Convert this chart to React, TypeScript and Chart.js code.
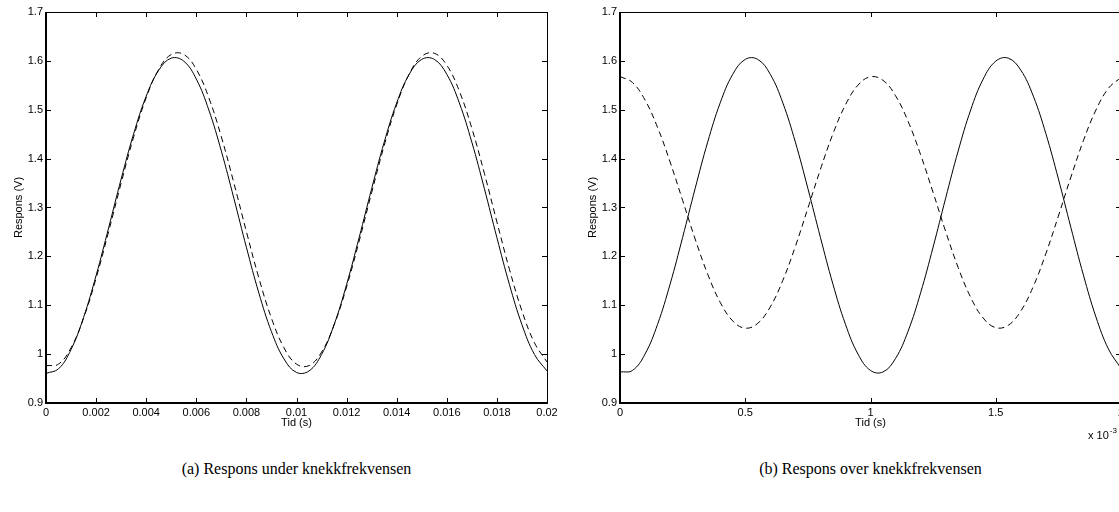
import React, { useEffect, useRef } from "react";
import { Chart, registerables } from "chart.js";

Chart.register(...registerables);

// ---- data ----
const timeA = [0, 0.0005, 0.001, 0.0015, 0.002, 0.0025, 0.003, 0.0035, 0.004, 0.0045, 0.005, 0.0055, 0.006, 0.0065, 0.007, 0.0075, 0.008, 0.0085, 0.009, 0.0095, 0.01, 0.0105, 0.011, 0.0115, 0.012, 0.0125, 0.013, 0.0135, 0.014, 0.0145, 0.015, 0.0155, 0.016, 0.0165, 0.017, 0.0175, 0.018, 0.0185, 0.019, 0.0195, 0.02];
const solidA = [0.9606, 0.97, 1.0094, 1.0752, 1.1609, 1.2584, 1.3583, 1.451, 1.5277, 1.5809, 1.6056, 1.5994, 1.5628, 1.4995, 1.4154, 1.3187, 1.2185, 1.1246, 1.046, 0.9902, 0.9625, 0.9656, 0.9992, 1.0602, 1.1425, 1.2384, 1.3386, 1.4335, 1.514, 1.5725, 1.6031, 1.6031, 1.5725, 1.514, 1.4335, 1.3386, 1.2384, 1.1425, 1.0602, 0.9992, 0.9656];
const dashedA = [0.9765, 0.9796, 1.013, 1.0735, 1.1554, 1.2507, 1.3502, 1.4446, 1.5246, 1.5827, 1.6131, 1.6131, 1.5827, 1.5246, 1.4446, 1.3502, 1.2507, 1.1554, 1.0735, 1.013, 0.9796, 0.9765, 1.004, 1.0595, 1.1376, 1.231, 1.3304, 1.4266, 1.5102, 1.5731, 1.6094, 1.6156, 1.5911, 1.5382, 1.462, 1.3698, 1.2705, 1.1736, 1.0885, 1.0231, 0.9839];

const timeB = [0, 0.05, 0.1, 0.15, 0.2, 0.25, 0.3, 0.35, 0.4, 0.45, 0.5, 0.55, 0.6, 0.65, 0.7, 0.75, 0.8, 0.85, 0.9, 0.95, 1, 1.05, 1.1, 1.15, 1.2, 1.25, 1.3, 1.35, 1.4, 1.45, 1.5, 1.55, 1.6, 1.65, 1.7, 1.75, 1.8, 1.85, 1.9, 1.95, 2];
const solidB = [0.9635, 0.9666, 1.0002, 1.061, 1.1432, 1.2389, 1.339, 1.4338, 1.5141, 1.5725, 1.6031, 1.6031, 1.5725, 1.5141, 1.4338, 1.339, 1.2389, 1.1432, 1.061, 1.0002, 0.9666, 0.9635, 0.9912, 1.0469, 1.1254, 1.2191, 1.3191, 1.4157, 1.4997, 1.5629, 1.5994, 1.6056, 1.581, 1.5278, 1.4512, 1.3587, 1.2589, 1.1616, 1.076, 1.0103, 0.971];
const dashedB = [1.568, 1.5556, 1.5198, 1.4638, 1.3931, 1.3145, 1.2355, 1.1637, 1.106, 1.0679, 1.0531, 1.063, 1.0967, 1.1509, 1.2203, 1.2985, 1.3778, 1.4507, 1.51, 1.5503, 1.5675, 1.5601, 1.5287, 1.4763, 1.4081, 1.3305, 1.251, 1.1772, 1.1161, 1.0738, 1.0541, 1.0591, 1.0882, 1.1386, 1.2055, 1.2825, 1.3622, 1.437, 1.4995, 1.544, 1.566];

const yRange = [0.9, 1.7, 0.1];
const xRangeA = [0, 0.02, 0.002];
const xRangeB = [0, 2, 0.5];
const xTitle = "Tid (s)";
const yTitle = "Respons (V)";
const captionA = "(a) Respons under knekkfrekvensen";
const captionB = "(b) Respons over knekkfrekvensen";

const SANS = '"Liberation Sans", Arial, Helvetica, sans-serif';

const framePlugin = {
  id: "frame",
  afterDraw(chart: any, _args: any, opts: any) {
    const { ctx, chartArea, scales } = chart;
    const { left, top, right, bottom } = chartArea;
    const tl = 5;
    ctx.save();
    ctx.strokeStyle = "#000";
    ctx.lineWidth = 1;
    ctx.beginPath();
    scales.x.ticks.forEach((t: any) => {
      const x = Math.round(scales.x.getPixelForValue(t.value)) + 0.5;
      if (x - left < 3 || right - x < 3) return;
      ctx.moveTo(x, bottom);
      ctx.lineTo(x, bottom - tl);
      ctx.moveTo(x, top);
      ctx.lineTo(x, top + tl);
    });
    scales.y.ticks.forEach((t: any) => {
      const y = Math.round(scales.y.getPixelForValue(t.value)) + 0.5;
      if (y - top < 3 || bottom - y < 3) return;
      ctx.moveTo(left, y);
      ctx.lineTo(left + tl, y);
      ctx.moveTo(right, y);
      ctx.lineTo(right - tl, y);
    });
    ctx.stroke();
    // thin top / right
    ctx.beginPath();
    ctx.lineWidth = 1;
    ctx.moveTo(left, top + 0.5);
    ctx.lineTo(right + 1, top + 0.5);
    ctx.moveTo(right + 0.5, top);
    ctx.lineTo(right + 0.5, bottom);
    ctx.stroke();
    // thick left / bottom
    ctx.beginPath();
    ctx.lineWidth = 2;
    ctx.moveTo(left, top);
    ctx.lineTo(left, bottom + 1);
    ctx.moveTo(left - 1, bottom);
    ctx.lineTo(right + 1, bottom);
    ctx.stroke();
    // titles
    ctx.fillStyle = "#000";
    ctx.font = `11px ${SANS}`;
    ctx.textAlign = "center";
    ctx.textBaseline = "middle";
    ctx.fillText(opts.xTitle, (left + right) / 2, bottom + 20);
    ctx.save();
    ctx.translate(left - 27, (top + bottom) / 2);
    ctx.rotate(-Math.PI / 2);
    ctx.fillText(opts.yTitle, 0, 0);
    ctx.restore();
    if (opts.exponent) {
      ctx.textAlign = "left";
      ctx.textBaseline = "alphabetic";
      ctx.font = `11px ${SANS}`;
      const x0 = right - 33;
      ctx.fillText("x 10", x0, bottom + 36);
      const w = ctx.measureText("x 10").width;
      ctx.font = `8px ${SANS}`;
      ctx.fillText(opts.exponent, x0 + w + 1, bottom + 30);
    }
    ctx.restore();
  },
};

function fmt(v: number, d: number) {
  return String(Math.round(v * Math.pow(10, d)) / Math.pow(10, d));
}

type PanelProps = {
  times: number[];
  solid: number[];
  dashed: number[];
  xRange: number[];
  xDec: number;
  yAxisW: number;
  padRight: number;
  exponent?: string;
  left: number;
};

const CW = 580;
const CH = 450;

function Panel(p: PanelProps) {
  const ref = useRef<HTMLCanvasElement | null>(null);
  useEffect(() => {
    if (!ref.current) return;
    const mk = (vals: number[]) => p.times.map((t, i) => ({ x: t, y: vals[i] }));
    const chart = new Chart(ref.current, {
      type: "line",
      data: {
        datasets: [
          {
            data: mk(p.solid),
            borderColor: "#000",
            borderWidth: 1,
            pointRadius: 0,
            tension: 0.4,
            fill: false,
          },
          {
            data: mk(p.dashed),
            borderColor: "#000",
            borderWidth: 1,
            borderDash: [6, 4],
            pointRadius: 0,
            tension: 0.4,
            fill: false,
          },
        ],
      },
      options: {
        animation: false,
        responsive: false,
        devicePixelRatio: 1,
        events: [],
        layout: { padding: { left: 0, top: 12, right: p.padRight, bottom: 0 } },
        plugins: {
          legend: { display: false },
          tooltip: { enabled: false },
          frame: { xTitle, yTitle, exponent: p.exponent },
        } as any,
        scales: {
          x: {
            type: "linear",
            min: p.xRange[0],
            max: p.xRange[1],
            grid: { display: false, drawTicks: false },
            border: { display: false },
            ticks: {
              stepSize: p.xRange[2],
              autoSkip: false,
              maxRotation: 0,
              padding: 3,
              color: "#000",
              font: { family: SANS, size: 11 },
              callback: (v: any) => fmt(Number(v), p.xDec),
            },
            afterFit: (s: any) => {
              s.height = CH - 403;
            },
          },
          y: {
            type: "linear",
            min: yRange[0],
            max: yRange[1],
            grid: { display: false, drawTicks: false },
            border: { display: false },
            ticks: {
              stepSize: yRange[2],
              autoSkip: false,
              padding: 3,
              color: "#000",
              font: { family: SANS, size: 11 },
              callback: (v: any) => fmt(Number(v), 1),
            },
            afterFit: (s: any) => {
              s.width = p.yAxisW;
            },
          },
        },
      } as any,
      plugins: [framePlugin as any],
    });
    return () => chart.destroy();
  }, []);
  return (
    <canvas
      ref={ref}
      width={CW}
      height={CH}
      style={{ position: "absolute", left: p.left, top: 0, width: CW, height: CH }}
    />
  );
}

const captionStyle: React.CSSProperties = {
  position: "absolute",
  top: 459,
  width: 501,
  textAlign: "center",
  fontFamily: '"Liberation Serif", "Times New Roman", serif',
  fontSize: 16,
  lineHeight: "20px",
  color: "#000",
  whiteSpace: "nowrap",
};

export default function App() {
  return (
    <div
      style={{
        position: "fixed",
        left: 0,
        top: 0,
        width: 1119,
        height: 512,
        overflow: "hidden",
        background: "#fff",
      }}
    >
      <Panel times={timeA} solid={solidA} dashed={dashedA} xRange={xRangeA} xDec={3} yAxisW={46} padRight={33} left={0} />
      <Panel times={timeB} solid={solidB} dashed={dashedB} xRange={xRangeB} xDec={1} yAxisW={40} padRight={39} exponent="-3" left={580} />
      <div style={{ ...captionStyle, left: 46 }}>{captionA}</div>
      <div style={{ ...captionStyle, left: 620 }}>{captionB}</div>
    </div>
  );
}
